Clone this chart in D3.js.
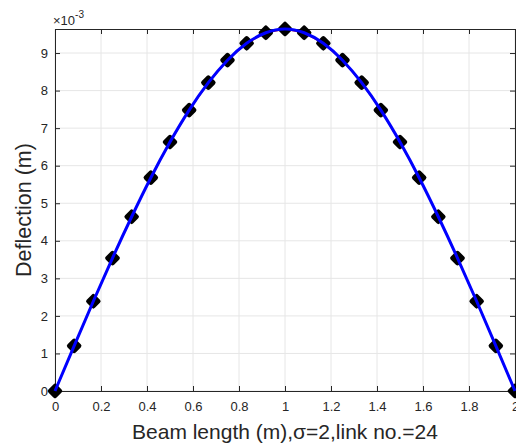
<!DOCTYPE html>
<html>
<head>
<meta charset="utf-8">
<script src="https://cdn.jsdelivr.net/npm/d3@7"></script>
<style>
  body { margin: 0; background: #fff; }
  text { font-family: "Liberation Sans", Arial, sans-serif; fill: #262626; }
</style>
</head>
<body>
<svg id="svg" width="516" height="447"></svg>
<script>
// beam positions (m), 24 links -> 25 nodes
var beamX = [0, 0.0833, 0.1667, 0.25, 0.3333, 0.4167, 0.5, 0.5833, 0.6667, 0.75, 0.8333, 0.9167,
             1, 1.0833, 1.1667, 1.25, 1.3333, 1.4167, 1.5, 1.5833, 1.6667, 1.75, 1.8333, 1.9167, 2];
// deflection, units of 1e-3 m
var deflection = [0, 1.20, 2.39, 3.54, 4.64, 5.68, 6.63, 7.48, 8.21, 8.81, 9.26, 9.54,
                  9.64, 9.54, 9.26, 8.81, 8.21, 7.48, 6.63, 5.68, 4.64, 3.54, 2.39, 1.20, 0];
var xTicks = [0, 0.2, 0.4, 0.6, 0.8, 1, 1.2, 1.4, 1.6, 1.8, 2];
var yTicks = [0, 1, 2, 3, 4, 5, 6, 7, 8, 9];

var margin = { top: 29, right: 1, bottom: 56, left: 55 };
var svgWidth = 516, svgHeight = 447;
var chartWidth = svgWidth - margin.left - margin.right;
var chartHeight = svgHeight - margin.top - margin.bottom;

var svg = d3.select("svg");
var chart = svg.append("g")
    .attr("transform", "translate(" + margin.left + "," + margin.top + ")");

var xScale = d3.scaleLinear().domain([0, 2]).range([0, chartWidth]);
var yScale = d3.scaleLinear().domain([0, d3.max(deflection)]).range([chartHeight, 0]);

// grid
chart.append("g").selectAll("line.gx")
    .data(xTicks).enter().append("line")
    .attr("x1", function (d) { return xScale(d); })
    .attr("x2", function (d) { return xScale(d); })
    .attr("y1", 0).attr("y2", chartHeight)
    .attr("stroke", "#e6e6e6").attr("stroke-width", 1);
chart.append("g").selectAll("line.gy")
    .data(yTicks).enter().append("line")
    .attr("x1", 0).attr("x2", chartWidth)
    .attr("y1", function (d) { return yScale(d); })
    .attr("y2", function (d) { return yScale(d); })
    .attr("stroke", "#e6e6e6").attr("stroke-width", 1);

// axes (ticks inward, MATLAB box)
var xAxis = d3.axisBottom(xScale).tickValues(xTicks).tickSizeInner(-5).tickSizeOuter(0)
    .tickPadding(11).tickFormat(d3.format("~g"));
var yAxis = d3.axisLeft(yScale).tickValues(yTicks).tickSizeInner(-5).tickSizeOuter(0)
    .tickPadding(7).tickFormat(d3.format("d"));

var gx = chart.append("g").attr("transform", "translate(0," + chartHeight + ")").call(xAxis);
var gy = chart.append("g").call(yAxis);
var gt = chart.append("g").call(d3.axisTop(xScale).tickValues(xTicks).tickSizeInner(-5).tickSizeOuter(0).tickFormat(""));
var gr = chart.append("g").attr("transform", "translate(" + chartWidth + ",0)")
    .call(d3.axisRight(yScale).tickValues(yTicks).tickSizeInner(-5).tickSizeOuter(0).tickFormat(""));

[gx, gy, gt, gr].forEach(function (g) {
    g.selectAll("path").attr("stroke", "#262626").attr("stroke-width", 1);
    g.selectAll("line").attr("stroke", "#262626");
    g.selectAll("text").style("font-size", "13px").style("fill", "#262626")
        .style("font-family", "Liberation Sans, Arial, sans-serif");
});

// points
var pts = beamX.map(function (x, i) { return [x, deflection[i]]; });

var redLine = d3.line()
    .x(function (d) { return xScale(d[0]); })
    .y(function (d) { return yScale(d[1]); });
chart.append("path").datum(pts)
    .attr("d", redLine).attr("fill", "none")
    .attr("stroke", "#ff0000").attr("stroke-width", 1.5);

chart.selectAll("path.mk").data(pts).enter().append("path")
    .attr("class", "mk")
    .attr("transform", function (d) { return "translate(" + xScale(d[0]) + "," + yScale(d[1]) + ") rotate(45)"; })
    .attr("d", d3.symbol().type(d3.symbolSquare).size(50))
    .attr("fill", "#000").attr("stroke", "#000")
    .attr("stroke-width", 4.5).attr("stroke-linejoin", "round");

var blueLine = d3.line()
    .x(function (d) { return xScale(d[0]); })
    .y(function (d) { return yScale(d[1]); })
    .curve(d3.curveNatural);
chart.append("path").datum(pts)
    .attr("d", blueLine).attr("fill", "none")
    .attr("stroke", "#0000ff").attr("stroke-width", 3);

// exponent label
var expo = svg.append("text").attr("x", margin.left - 2).attr("y", 25).style("font-size", "13px");
expo.append("tspan").text("\u00d710");
expo.append("tspan").attr("dy", -7).style("font-size", "10px").text("-3");

// axis labels
svg.append("text")
    .attr("x", margin.left + chartWidth / 2).attr("y", 439)
    .attr("text-anchor", "middle").style("font-size", "21px")
    .text("Beam length (m),\u03c3=2,link no.=24");

svg.append("text")
    .attr("transform", "rotate(-90)")
    .attr("x", -(margin.top + chartHeight / 2)).attr("y", 31)
    .attr("text-anchor", "middle").style("font-size", "21.5px")
    .text("Deflection (m)");
</script>
</body>
</html>
